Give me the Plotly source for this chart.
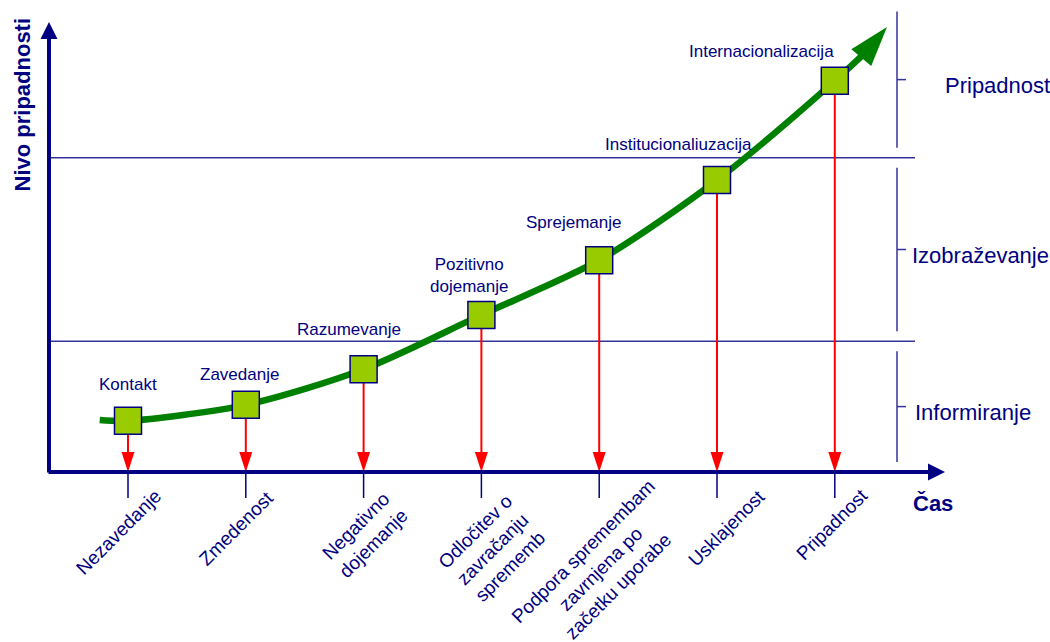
import plotly.graph_objects as go

# ---------------- data ----------------
stage_x = [1, 2, 3, 4, 5, 6, 7]
level_values = [1.15, 1.51, 2.31, 3.53, 4.76, 6.56, 8.79]
top_labels = ["Kontakt", "Zavedanje", "Razumevanje", "Pozitivno<br>dojemanje",
              "Sprejemanje", "Institucionaliuzacija", "Internacionalizacija"]
bottom_labels = ["Nezavedanje", "Zmedenost", "Negativno<br>dojemanje",
                 "Odločitev o<br>zavračanju<br>sprememb",
                 "Podpora spremembam<br>zavrnjena po<br>začetku uporabe",
                 "Usklajenost", "Pripadnost"]
curve_start = (0.76, 1.17)
curve_end = (7.265, 9.44)
arrow_tip = (7.443, 10.0)
zone_bounds = [0, 2.94, 7.06, 10.575]
zone_labels = ["Informiranje", "Izobraževanje", "Pripadnost"]
x_title = "Čas"
y_title = "Nivo pripadnosti"

# ---------------- layout constants ----------------
W, H = 1050, 642
X0_PX, X_PX = 128, 117.8      # pixel of stage 1, pixels per stage
Y0_PX, Y_PX = 472, 44.5       # pixel of level 0, pixels per level
NAVY = "#000080"
LINE_NAVY = "#333399"
GREEN = "#008000"
FILL = "#99cc00"
FONT = "Liberation Sans"

def px_x(p):
    return 1 + (p - X0_PX) / X_PX

def px_y(p):
    return (Y0_PX - p) / Y_PX

x_range = [px_x(0), px_x(W)]
y_range = [px_y(H), px_y(0)]

axis_x_start, axis_x_end = px_x(47), px_x(945)
axis_y_bottom, axis_y_top = px_y(474), px_y(22)
yaxis_x = px_x(49)
hline_end = px_x(915)
bracket_x, bracket_tick = px_x(897), px_x(906)
bracket_inset = 10 / Y_PX
tick_len = 26 / Y_PX

top_shift = [(0, 36), (-6, 30), (-15, 40), (-12, 39), (-26, 38), (-39, 36), (-73, 29)]
bottom_shift = [(-10, -60), (-10, -56), (1, -63), (11, -77), (1, -97), (9, -56), (-3, -52)]
zone_label_left = [913, 910, 943]

fig = go.Figure()

# horizontal zone lines
hx, hy = [], []
for b in zone_bounds[1:3]:
    hx += [yaxis_x, hline_end, None]
    hy += [b, b, None]
fig.add_trace(go.Scatter(x=hx, y=hy, mode="lines", line=dict(color=LINE_NAVY, width=1.5),
                         hoverinfo="skip", showlegend=False))

# right brackets
bx, by = [], []
for lo, hi in zip(zone_bounds[:-1], zone_bounds[1:]):
    mid = (lo + hi) / 2
    bx += [bracket_x, bracket_x, None, bracket_x, bracket_tick, None]
    by += [lo + bracket_inset, hi - bracket_inset, None, mid, mid, None]
fig.add_trace(go.Scatter(x=bx, y=by, mode="lines", line=dict(color=LINE_NAVY, width=1.5),
                         hoverinfo="skip", showlegend=False))

# tick marks under the time axis
tx, ty = [], []
for s in stage_x:
    tx += [s, s, None]
    ty += [0, -tick_len, None]
fig.add_trace(go.Scatter(x=tx, y=ty, mode="lines", line=dict(color=NAVY, width=1.5),
                         hoverinfo="skip", showlegend=False))

# red arrows
rx, ry, rs = [], [], []
for s, v in zip(stage_x, level_values):
    rx += [s, s, None]
    ry += [v, 0, None]
    rs += [0, 21, 0]
fig.add_trace(go.Scatter(x=rx, y=ry, mode="lines+markers",
                         line=dict(color="#ff0000", width=2),
                         marker=dict(symbol="arrow", size=rs, color="#ff0000", opacity=1,
                                     angleref="previous", line=dict(width=0)),
                         hoverinfo="skip", showlegend=False))

# green curve
cx = [curve_start[0]] + stage_x + [curve_end[0]]
cy = [curve_start[1]] + level_values + [curve_end[1]]
fig.add_trace(go.Scatter(x=cx, y=cy, mode="lines",
                         line=dict(color=GREEN, width=6.5, shape="spline", smoothing=0.8),
                         hoverinfo="skip", showlegend=False))
fig.add_trace(go.Scatter(x=[curve_end[0], arrow_tip[0]], y=[curve_end[1], arrow_tip[1]],
                         mode="markers",
                         marker=dict(symbol="arrow", size=[0, 42], color=GREEN, opacity=1,
                                     angleref="previous", line=dict(width=0)),
                         hoverinfo="skip", showlegend=False))

# square markers
fig.add_trace(go.Scatter(x=stage_x, y=level_values, mode="markers",
                         marker=dict(symbol="square", size=27, color=FILL, opacity=1,
                                     line=dict(color=NAVY, width=1.5)),
                         hoverinfo="skip", showlegend=False))

ann = []
# axes arrows
ann.append(dict(x=axis_x_end, y=0, ax=axis_x_start, ay=0, xref="x", yref="y",
                axref="x", ayref="y", text="", showarrow=True, arrowhead=2,
                arrowwidth=4, arrowsize=0.85, arrowcolor=NAVY))
ann.append(dict(x=yaxis_x, y=axis_y_top, ax=yaxis_x, ay=axis_y_bottom, xref="x", yref="y",
                axref="x", ayref="y", text="", showarrow=True, arrowhead=2,
                arrowwidth=4, arrowsize=0.85, arrowcolor=NAVY))

for s, v, t, (dx, dy) in zip(stage_x, level_values, top_labels, top_shift):
    ann.append(dict(x=s, y=v, xref="x", yref="y", text=t, showarrow=False,
                    xshift=dx, yshift=dy, xanchor="center", yanchor="middle",
                    font=dict(family=FONT, size=17, color=NAVY)))

for s, t, (dx, dy) in zip(stage_x, bottom_labels, bottom_shift):
    ann.append(dict(x=s, y=0, xref="x", yref="y", text=t, showarrow=False,
                    xshift=dx, yshift=dy, xanchor="center", yanchor="middle",
                    textangle=-45, align="center",
                    font=dict(family=FONT, size=19, color=NAVY)))

for lo, hi, t, lx in zip(zone_bounds[:-1], zone_bounds[1:], zone_labels, zone_label_left):
    ann.append(dict(x=lx / W, y=(lo + hi) / 2, xref="paper", yref="y", text=t,
                    showarrow=False, xanchor="left", yanchor="middle", yshift=-6,
                    font=dict(family=FONT, size=22, color=NAVY)))

ann.append(dict(x=933 / W, y=1 - 503 / H, xref="paper", yref="paper", text="<b>" + x_title + "</b>",
                showarrow=False, xanchor="center", yanchor="middle",
                font=dict(family=FONT, size=22, color=NAVY)))
ann.append(dict(x=22.5 / W, y=1 - 105 / H, xref="paper", yref="paper", text="<b>" + y_title + "</b>",
                showarrow=False, xanchor="center", yanchor="middle", textangle=-90,
                font=dict(family=FONT, size=22, color=NAVY)))

fig.update_layout(
    width=W, height=H, margin=dict(l=0, r=0, t=0, b=0),
    paper_bgcolor="white", plot_bgcolor="white",
    xaxis=dict(range=x_range, visible=False, fixedrange=True),
    yaxis=dict(range=y_range, visible=False, fixedrange=True),
    annotations=ann, showlegend=False,
)

fig.write_html("out.html", config={"displayModeBar": False})
